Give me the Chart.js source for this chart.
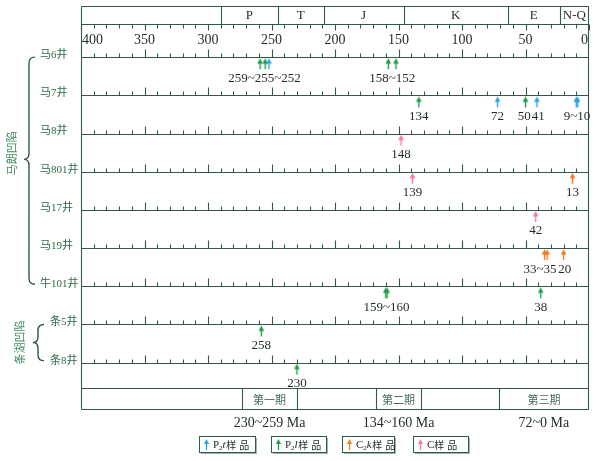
<!DOCTYPE html>
<html>
<head>
<meta charset="utf-8">
<script src="https://cdn.jsdelivr.net/npm/chart.js@4.4.0/dist/chart.umd.min.js"></script>
<style>
  html, body { margin: 0; padding: 0; background: #fff; }
  #wrap { width: 599px; height: 461px; }
</style>
</head>
<body>
<div id="wrap"><canvas id="chart" width="599" height="461"></canvas></div>
<script>
(function () {
  "use strict";

  // wells, top to bottom
  var wells = ["马6井", "马7井", "马8井", "马801井", "马17井", "马19井", "牛101井", "条5井", "条8井"];
  var basins = ["马朗凹陷", "条湖凹陷"];
  var basinFirstWell = [0, 7];
  var basinLastWell = [6, 8];

  // geologic periods along the top (boundaries in Ma, as drawn)
  var periods = ["P", "T", "J", "K", "E", "N-Q"];
  var periodOld = [290, 245, 209, 146, 64, 23];
  var periodYoung = [245, 209, 146, 64, 23, 0];

  var axisTicks = [400, 350, 300, 250, 200, 150, 100, 50, 0];

  // samples: age (Ma) + well index
  var p2tAges = [252, 72, 41, 10, 9];
  var p2tWells = [0, 1, 1, 1, 1];
  var p2lAges = [259, 255, 158, 152, 134, 50, 160, 159, 38, 258, 230];
  var p2lWells = [0, 0, 0, 0, 1, 1, 6, 6, 6, 7, 8];
  var c2kAges = [13, 35, 33, 20];
  var c2kWells = [3, 5, 5, 5];
  var cAges = [148, 139, 42];
  var cWells = [2, 3, 4];

  // age notes written under the arrows
  var noteTexts = ["259~255~252", "158~152", "134", "72", "50", "41", "9~10", "148", "139", "13", "42", "33~35", "20", "159~160", "38", "258", "230"];
  var noteAges = [255.5, 155, 134, 72, 51, 40, 9.5, 148, 139, 13, 42, 38.5, 19, 159.5, 38, 258, 230];
  var noteWells = [0, 0, 1, 1, 1, 1, 1, 2, 3, 3, 4, 5, 5, 6, 6, 7, 8];

  // the three stages along the bottom
  var stages = ["第一期", "第二期", "第三期"];
  var stageOld = [273, 168, 71];
  var stageYoung = [230, 132, 0];
  var stageRanges = ["230~259 Ma", "134~160 Ma", "72~0 Ma"];

  // legend
  var legendMain = ["P", "P", "C", "C"];
  var legendSub = ["2", "2", "2", ""];
  var legendItalic = ["t", "l", "k", ""];

  var col = {
    p2t: "#2aa2e4",
    p2l: "#1c9c46",
    c2k: "#f07c22",
    c: "#f27aa2",
    line: "#33574a",
    text: "#1e2a23",
    well: "#2c6a4a",
    basin: "#3c8c5c",
    stage: "#4d6c5a",
  };
  var legendColors = [col.p2t, col.p2l, col.c2k, col.c];

  var SERIF = '"Liberation Serif", "Noto Sans CJK SC", serif';
  var CJK = '"Noto Sans CJK SC", sans-serif';

  function makeArrow(color) {
    var c = document.createElement("canvas");
    c.width = 9;
    c.height = 26;
    var g = c.getContext("2d");
    g.fillStyle = color;
    g.beginPath();
    g.moveTo(4.5, 14);
    g.lineTo(7.3, 19.5);
    g.lineTo(1.7, 19.5);
    g.closePath();
    g.fill();
    g.fillRect(3.8, 19, 1.4, 6);
    return c;
  }

  function points(ages, rows) {
    return ages.map(function (a, i) {
      return { x: a, y: rows[i] };
    });
  }

  function dataset(label, ages, rows, color) {
    return {
      label: label,
      data: points(ages, rows),
      pointStyle: makeArrow(color),
      pointRadius: 5,
      backgroundColor: color,
      borderColor: color,
    };
  }

  function hline(ctx, x1, x2, y) {
    ctx.beginPath();
    ctx.moveTo(x1, y);
    ctx.lineTo(x2, y);
    ctx.stroke();
  }

  function vline(ctx, x, y1, y2) {
    ctx.beginPath();
    ctx.moveTo(x, y1);
    ctx.lineTo(x, y2);
    ctx.stroke();
  }

  function snap(v) {
    return Math.round(v) + 0.5;
  }

  function drawBrace(ctx, x, top, tip, bottom) {
    ctx.beginPath();
    ctx.moveTo(x + 6, top);
    ctx.quadraticCurveTo(x, top, x, top + 6);
    ctx.lineTo(x, tip - 6);
    ctx.quadraticCurveTo(x, tip, x - 5, tip);
    ctx.quadraticCurveTo(x, tip, x, tip + 6);
    ctx.lineTo(x, bottom - 6);
    ctx.quadraticCurveTo(x, bottom, x + 6, bottom);
    ctx.stroke();
  }

  function drawLegendItem(ctx, i, x, w) {
    var y0 = 436, h = 16;
    ctx.strokeStyle = col.line;
    ctx.lineWidth = 1;
    ctx.strokeRect(x + 0.5, y0 + 0.5, w, h);
    ctx.strokeStyle = "rgba(51,87,74,0.45)";
    hline(ctx, x + 2, x + w + 1.5, y0 + h + 1.5);
    vline(ctx, x + w + 1.5, y0 + 2, y0 + h + 1.5);

    // small arrow
    var ax = x + 7.5;
    ctx.fillStyle = legendColors[i];
    ctx.beginPath();
    ctx.moveTo(ax, y0 + 3);
    ctx.lineTo(ax + 2.5, y0 + 8);
    ctx.lineTo(ax - 2.5, y0 + 8);
    ctx.closePath();
    ctx.fill();
    ctx.fillRect(ax - 0.6, y0 + 7, 1.2, 7);

    var tx = x + 14, ty = y0 + 9;
    ctx.fillStyle = col.text;
    ctx.textAlign = "left";
    ctx.textBaseline = "middle";
    ctx.font = "11px " + SERIF;
    ctx.fillText(legendMain[i], tx, ty);
    tx += ctx.measureText(legendMain[i]).width;
    if (legendSub[i]) {
      ctx.font = "7px " + SERIF;
      ctx.fillText(legendSub[i], tx, ty + 3);
      tx += ctx.measureText(legendSub[i]).width;
    }
    if (legendItalic[i]) {
      ctx.font = "italic 11px " + SERIF;
      ctx.fillText(legendItalic[i], tx, ty);
      tx += ctx.measureText(legendItalic[i]).width + 0.5;
    }
    ctx.font = "10px " + CJK;
    ctx.fillText("样", tx, ty);
    tx += ctx.measureText("样").width + 3;
    ctx.fillText("品", tx, ty);
  }

  var framePlugin = {
    id: "frame",
    beforeDatasetsDraw: function (chart) {
      var ctx = chart.ctx;
      var xs = chart.scales.x;
      var ys = chart.scales.y;
      var a = chart.chartArea;
      var L = snap(a.left), R = snap(a.right - 1);
      var top = snap(a.top), bot = snap(a.bottom - 1);
      var periodBottom = top + 18;
      var stageTop = bot - 21;
      var age, x, y, i;

      ctx.save();
      ctx.strokeStyle = col.line;
      ctx.lineWidth = 1.1;

      // outer frame
      vline(ctx, L, top, bot);
      vline(ctx, R, top, bot);
      hline(ctx, L, R, top);
      hline(ctx, L, R, periodBottom);
      hline(ctx, L, R, stageTop);
      hline(ctx, L, R, bot);

      // period bar
      ctx.fillStyle = col.text;
      ctx.font = "13px " + SERIF;
      ctx.textAlign = "center";
      ctx.textBaseline = "middle";
      for (i = 0; i < periods.length; i++) {
        x = snap(xs.getPixelForValue(periodOld[i]));
        vline(ctx, x, top, periodBottom);
        var xc = (xs.getPixelForValue(periodOld[i]) + xs.getPixelForValue(periodYoung[i])) / 2;
        ctx.fillText(periods[i], xc, top + 9.5);
      }

      // top age axis: ticks hang down from the period bar
      for (age = 0; age <= 400; age += 10) {
        x = snap(xs.getPixelForValue(age));
        vline(ctx, x, periodBottom, periodBottom + (age % 50 === 0 ? 6 : 4));
      }
      ctx.font = "14px " + SERIF;
      axisTicks.forEach(function (t) {
        var px = xs.getPixelForValue(t);
        ctx.textAlign = t === 400 ? "left" : t === 0 ? "right" : "center";
        ctx.fillText(String(t), t === 400 ? px + 1 : t === 0 ? px - 1 : px, top + 34);
      });

      // one time line per well, ticks pointing up
      for (i = 0; i < wells.length; i++) {
        y = snap(ys.getPixelForValue(i));
        hline(ctx, L, R, y);
        for (age = 10; age < 400; age += 10) {
          x = snap(xs.getPixelForValue(age));
          vline(ctx, x, y, y - (age % 50 === 0 ? 8 : 4));
        }
      }

      // well names + basin braces
      ctx.textAlign = "left";
      ctx.font = "11px " + SERIF;
      var labelX = [40, 50];
      var braceX = [29, 38];
      var basinX = [12, 20];
      for (var b = 0; b < basins.length; b++) {
        ctx.fillStyle = col.well;
        for (i = basinFirstWell[b]; i <= basinLastWell[b]; i++) {
          y = ys.getPixelForValue(i);
          ctx.fillText(wells[i], labelX[b], y - 2);
        }
        var y1 = ys.getPixelForValue(basinFirstWell[b]);
        var y2 = ys.getPixelForValue(basinLastWell[b]) - 2;
        var tip = b === 0 ? y1 + (y2 - y1) * 0.45 : (y1 + y2) / 2;
        ctx.lineWidth = 1.4;
        drawBrace(ctx, braceX[b], y1, tip, y2);
        ctx.lineWidth = 1.1;

        ctx.save();
        ctx.translate(basinX[b], b === 0 ? tip - 6 : tip);
        ctx.rotate(-Math.PI / 2);
        ctx.textAlign = "center";
        ctx.fillStyle = col.basin;
        ctx.font = "11px " + CJK;
        ctx.fillText(basins[b], 0, 0);
        ctx.restore();
      }

      // stage bar
      ctx.textAlign = "center";
      for (i = 0; i < stages.length; i++) {
        var xo = xs.getPixelForValue(stageOld[i]);
        var xy = xs.getPixelForValue(stageYoung[i]);
        vline(ctx, snap(xo), stageTop, bot);
        if (stageYoung[i] > 0) vline(ctx, snap(xy), stageTop, bot);
        ctx.fillStyle = col.stage;
        ctx.font = "11px " + CJK;
        ctx.fillText(stages[i], (xo + xy) / 2, stageTop + 11);
        ctx.fillStyle = col.text;
        ctx.font = "14px " + SERIF;
        ctx.fillText(stageRanges[i], (xo + xy) / 2, bot + 14);
      }

      // legend
      var legendX = [199, 271, 342, 413];
      var legendW = [56, 55, 52, 55];
      for (i = 0; i < legendMain.length; i++) drawLegendItem(ctx, i, legendX[i], legendW[i]);

      ctx.restore();
    },
    afterDatasetsDraw: function (chart) {
      var ctx = chart.ctx;
      var xs = chart.scales.x;
      var ys = chart.scales.y;
      ctx.save();
      ctx.fillStyle = col.text;
      ctx.font = "13px " + SERIF;
      ctx.textAlign = "center";
      ctx.textBaseline = "middle";
      for (var i = 0; i < noteTexts.length; i++) {
        ctx.fillText(noteTexts[i], xs.getPixelForValue(noteAges[i]), ys.getPixelForValue(noteWells[i]) + 21);
      }
      ctx.restore();
    },
  };

  new Chart(document.getElementById("chart"), {
    type: "scatter",
    data: {
      datasets: [
        dataset("P2t", p2tAges, p2tWells, col.p2t),
        dataset("P2l", p2lAges, p2lWells, col.p2l),
        dataset("C2k", c2kAges, c2kWells, col.c2k),
        dataset("C", cAges, cWells, col.c),
      ],
    },
    options: {
      responsive: false,
      animation: false,
      events: [],
      layout: { padding: { left: 81, right: 10, top: 6, bottom: 51 } },
      plugins: {
        legend: { display: false },
        tooltip: { enabled: false },
      },
      scales: {
        x: { type: "linear", min: 0, max: 400, reverse: true, display: false },
        y: { type: "linear", min: -1.34, max: 9.24, reverse: true, display: false },
      },
    },
    plugins: [framePlugin],
  });
})();
</script>
</body>
</html>
